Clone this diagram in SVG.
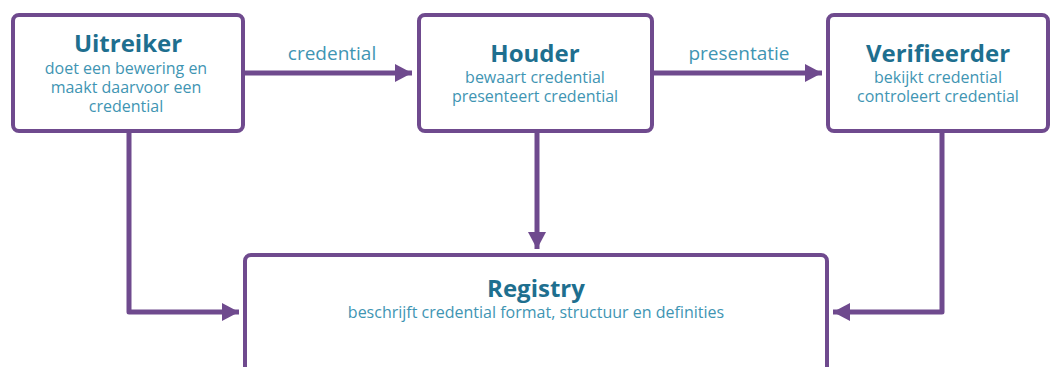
<svg xmlns="http://www.w3.org/2000/svg" width="1050" height="367" viewBox="0 0 1050 367">
<defs>
<style>
.box{fill:#fff;stroke:#6f4a8e;stroke-width:4}
.title{font-family:"Open Sans","Noto Sans",sans-serif;font-weight:bold;font-size:24px;fill:#1e6f8f;text-anchor:middle}
.sub{font-family:"Open Sans","Noto Sans",sans-serif;font-size:16px;fill:#3f95b3;text-anchor:middle}
.lbl{font-family:"Open Sans","Noto Sans",sans-serif;font-size:19px;fill:#3f95b3;text-anchor:middle}
.conn{fill:none;stroke:#6f4a8e;stroke-width:5;stroke-linejoin:round}
</style>
<marker id="ah" markerUnits="userSpaceOnUse" markerWidth="20" markerHeight="20" viewBox="0 0 20 20" refX="18" refY="10" orient="auto">
<path d="M1,1 L18,10 L1,19 Z" fill="#6f4a8e"/>
</marker>
</defs>
<g id="connectors">
<path class="conn" d="M244,73 L412,73" marker-end="url(#ah)"/>
<text class="lbl" x="332" y="60">credential</text>
<path class="conn" d="M653,73 L822,73" marker-end="url(#ah)"/>
<text class="lbl" x="739" y="60">presentatie</text>
<path class="conn" d="M129,132 L129,312 L239,312" marker-end="url(#ah)"/>
<path class="conn" d="M537,132 L537,249" marker-end="url(#ah)"/>
<path class="conn" d="M942,132 L942,312 L833,312" marker-end="url(#ah)"/>
</g>
<g id="uitreiker">
<rect class="box" x="13" y="15" width="230" height="116" rx="6"/>
<text class="title" x="128" y="52">Uitreiker</text>
<text class="sub" x="126" y="74">doet een bewering en</text>
<text class="sub" x="126" y="93">maakt daarvoor een</text>
<text class="sub" x="126" y="112">credential</text>
</g>
<g id="houder">
<rect class="box" x="419" y="15" width="233" height="116" rx="6"/>
<text class="title" x="535" y="62">Houder</text>
<text class="sub" x="535" y="83">bewaart credential</text>
<text class="sub" x="535" y="102">presenteert credential</text>
</g>
<g id="verifieerder">
<rect class="box" x="828" y="15" width="220" height="116" rx="6"/>
<text class="title" x="938" y="62">Verifieerder</text>
<text class="sub" x="938" y="83">bekijkt credential</text>
<text class="sub" x="938" y="102">controleert credential</text>
</g>
<g id="registry">
<rect class="box" x="245" y="255" width="582" height="140" rx="6"/>
<text class="title" x="536" y="297">Registry</text>
<text class="sub" x="536" y="318">beschrijft credential format, structuur en definities</text>
</g>
</svg>
